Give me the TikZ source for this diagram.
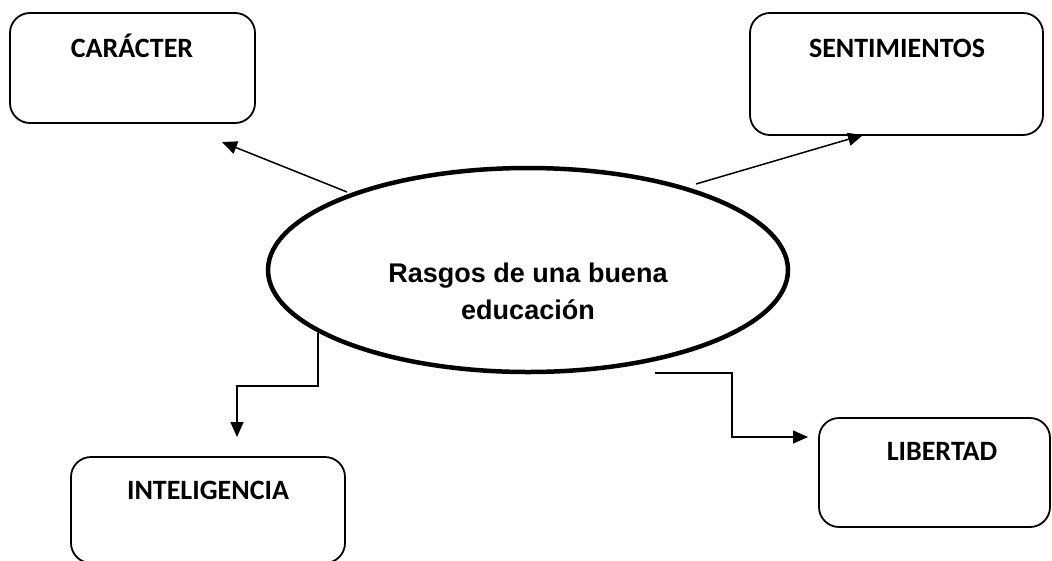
\documentclass[tikz,border=0pt]{standalone}
\usepackage{fontspec}
\newfontfamily\boxfont{Carlito}
\newfontfamily\arialfont{Liberation Sans}
\usetikzlibrary{shapes.geometric,arrows.meta}
\tikzset{
  topicbox/.style={draw, line width=1.8pt, rounded corners=20pt, inner sep=0pt},
  topiclabel/.style={anchor=base, inner sep=0pt, font=\boxfont\bfseries\fontsize{28}{34}\selectfont},
  link/.style={line width=1.5pt, -{Triangle[length=15pt,width=13pt]}},
  mainoval/.style={draw, ellipse, line width=4.5pt, inner sep=0pt}
}
\begin{document}
\begin{tikzpicture}[x=1pt,y=-1pt]
\useasboundingbox (0,0) rectangle (1052,560);
\fill[white] (0,0) rectangle (1052,560);
% boxes
\draw[topicbox] (10,13) rectangle (255,123);
\node[topiclabel] (car) at (132,57) {CARÁCTER};
\draw[topicbox] (750,13) rectangle (1043,135);
\node[topiclabel] (sen) at (897,57) {SENTIMIENTOS};
\draw[topicbox] (71,457) rectangle (345,563);
\node[topiclabel] (int) at (208,499) {INTELIGENCIA};
\draw[topicbox] (819,418) rectangle (1050,527);
\node[topiclabel] (lib) at (942,460) {LIBERTAD};
% central ellipse
\node[mainoval, minimum width=520pt, minimum height=204pt] (ell) at (528,270) {};
\node[anchor=base, inner sep=0pt, align=center, font=\arialfont\bfseries\fontsize{27}{37}\selectfont] (title) at (528,319) {Rasgos de una buena\\educación};
% connector end points
\coordinate (sCar) at (347,192);
\coordinate (tCar) at (222,142);
\coordinate (sSen) at (696,184);
\coordinate (tSen) at (863,135);
\coordinate (sInt) at (318,333);
\coordinate (tInt) at (237,437);
\coordinate (sLib) at (655,373);
\coordinate (tLib) at (808,437);
% connectors
\draw[link] (sCar) -- (tCar);
\draw[link] (sSen) -- (tSen);
\draw[link] (sInt) -- (318,386) -- (237,386) -- (tInt);
\draw[link] (sLib) -- (732,373) -- (732,437) -- (tLib);
\end{tikzpicture}
\end{document}
